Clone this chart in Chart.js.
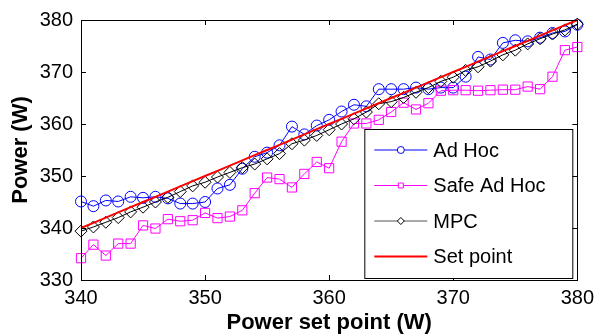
<!DOCTYPE html>
<html>
<head>
<meta charset="utf-8">
<script src="https://cdn.jsdelivr.net/npm/chart.js@4"></script>
<style>
  body { margin: 0; background: #fff; }
  #wrap { width: 600px; height: 334px; }
</style>
</head>
<body>
<div id="wrap"><canvas id="powerChart" width="600" height="334"></canvas></div>
<script>
// set points (W) on the x axis
const setPoints = [340, 341, 342, 343, 344, 345, 346, 347, 348, 349, 350, 351, 352, 353, 354, 355, 356, 357, 358, 359, 360,
    361, 362, 363, 364, 365, 366, 367, 368, 369, 370, 371, 372, 373, 374, 375, 376, 377, 378, 379, 380];

const adHoc = [345.1, 344.2, 345.3, 345.1, 346.0, 345.8, 346.0, 345.7, 344.7, 344.7, 345.0, 347.6, 348.3, 351.4, 353.7, 354.5,
    355.9, 359.5, 358.0, 359.7, 360.8, 362.4, 363.7, 363.4, 366.7, 366.7, 366.7, 367.0, 366.7, 367.0, 367.0, 369.1, 372.9,
    372.4, 375.6, 376.1, 375.9, 376.6, 377.5, 377.8, 379.1];

const safeAdHoc = [334.2, 336.8, 334.7, 337.0, 337.0, 340.5, 339.9, 341.7, 341.3, 341.5, 342.9, 341.9, 342.2, 343.4, 346.7,
    349.7, 349.4, 347.8, 350.4, 352.7, 351.5, 356.6, 360.1, 360.1, 360.8, 362.3, 364.1, 362.8, 364.0, 366.4, 366.5, 366.5,
    366.4, 366.5, 366.6, 366.6, 367.2, 366.7, 369.1, 374.2, 374.8];

const mpc = [339.4, 340.2, 341.1, 342.0, 343.1, 344.0, 345.0, 345.9, 347.0, 348.1, 348.8, 349.8, 350.7, 351.6, 352.3, 353.3,
    354.3, 356.2, 356.9, 357.8, 358.9, 360.0, 361.0, 362.3, 363.9, 364.3, 365.1, 366.1, 367.0, 368.2, 369.0, 370.3, 371.0,
    372.1, 373.3, 374.2, 375.4, 376.4, 377.3, 378.1, 379.2];

const xTicks = [340, 350, 360, 370, 380];
const yTicks = [330, 340, 350, 360, 370, 380];

const FONT = "'Liberation Sans', Arial, Helvetica, sans-serif";

function pts(vals) {
    return setPoints.map((x, i) => ({ x: x, y: vals[i] }));
}

// box around the plot plus inward tick marks, matlab style
const axesBox = {
    id: 'axesBox',
    afterDatasetsDraw(chart) {
        const { ctx, chartArea: a, scales } = chart;
        ctx.save();
        ctx.strokeStyle = '#000';
        ctx.lineWidth = 1;
        ctx.beginPath();
        xTicks.forEach(v => {
            const px = Math.round(scales.x.getPixelForValue(v)) + 0.5;
            ctx.moveTo(px, a.bottom); ctx.lineTo(px, a.bottom - 5);
            ctx.moveTo(px, a.top); ctx.lineTo(px, a.top + 5);
        });
        yTicks.forEach(v => {
            const py = Math.round(scales.y.getPixelForValue(v)) + 0.5;
            ctx.moveTo(a.left, py); ctx.lineTo(a.left + 5, py);
            ctx.moveTo(a.right, py); ctx.lineTo(a.right - 5, py);
        });
        ctx.stroke();
        ctx.strokeRect(Math.round(a.left) + 0.5, Math.round(a.top) + 0.5,
            Math.round(a.right - a.left), Math.round(a.bottom - a.top));
        ctx.restore();
    }
};

// legend box in the lower right corner of the axes
const boxLegend = {
    id: 'boxLegend',
    afterDraw(chart) {
        const { ctx, chartArea: a } = chart;
        const left = a.right - 213, top = a.bottom - 151, w = 208, h = 149;
        ctx.save();
        ctx.fillStyle = '#fff';
        ctx.fillRect(left, top, w, h);
        ctx.strokeStyle = '#000';
        ctx.lineWidth = 1;
        ctx.strokeRect(left + 0.5, top + 0.5, w, h);
        ctx.font = '20px ' + FONT;
        ctx.textBaseline = 'middle';
        chart.data.datasets.forEach((ds, i) => {
            const y = top + 21 + i * 35.5;
            ctx.strokeStyle = ds.legendLine || ds.borderColor;
            ctx.lineWidth = ds.borderWidth;
            ctx.beginPath();
            ctx.moveTo(left + 10, y);
            ctx.lineTo(left + 63, y);
            ctx.stroke();
            if (ds.pointRadius > 0) {
                ctx.lineWidth = 1;
                ctx.strokeStyle = ds.borderColor;
                ctx.fillStyle = '#fff';
                Chart.helpers.drawPoint(ctx, { pointStyle: ds.pointStyle, radius: 3.5, borderWidth: 1 }, left + 36.5, y);
            }
            ctx.fillStyle = '#000';
            ctx.fillText(ds.label, left + 69, y + 1);
        });
        ctx.restore();
    }
};

const ctx = document.getElementById('powerChart').getContext('2d');

new Chart(ctx, {
    type: 'line',
    data: {
        datasets: [{
            label: 'Ad Hoc',
            data: pts(adHoc),
            borderColor: '#0000ff',
            borderWidth: 1,
            pointStyle: 'circle',
            pointRadius: 5.5,
            pointBorderWidth: 1,
            pointBackgroundColor: 'rgba(0,0,0,0)',
            order: 3
        }, {
            label: 'Safe Ad Hoc',
            data: pts(safeAdHoc),
            borderColor: '#ff00ff',
            borderWidth: 1,
            pointStyle: 'rect',
            pointRadius: 6.5,
            pointBorderWidth: 1,
            pointBackgroundColor: 'rgba(0,0,0,0)',
            order: 2
        }, {
            label: 'MPC',
            data: pts(mpc),
            borderColor: '#000000',
            legendLine: '#555555',
            borderWidth: 1,
            pointStyle: 'rectRot',
            pointRadius: 6,
            pointBorderWidth: 1,
            pointBackgroundColor: 'rgba(0,0,0,0)',
            order: 1
        }, {
            label: 'Set point',
            data: pts(setPoints),
            borderColor: '#ff0000',
            borderWidth: 2,
            pointRadius: 0,
            order: 0
        }]
    },
    options: {
        responsive: false,
        animation: false,
        devicePixelRatio: 1,
        clip: false,
        elements: { line: { tension: 0, fill: false } },
        layout: { padding: { top: 17, right: 20, left: 0, bottom: 0 } },
        plugins: {
            legend: { display: false },
            tooltip: { enabled: false }
        },
        scales: {
            x: {
                type: 'linear',
                min: 340,
                max: 380,
                afterFit: function(scale) { scale.height = 54; },
                afterBuildTicks: function(scale) { scale.ticks = xTicks.map(v => ({ value: v })); },
                grid: { display: false, drawTicks: false },
                border: { display: false },
                ticks: { color: '#000', padding: 6, maxRotation: 0, font: { family: FONT, size: 20 } },
                title: {
                    display: true,
                    text: 'Power set point (W)',
                    color: '#000',
                    padding: 0,
                    font: { family: FONT, size: 22, weight: 'bold', lineHeight: 1 }
                }
            },
            y: {
                min: 330,
                max: 380,
                afterFit: function(scale) { scale.width = 81; },
                afterBuildTicks: function(scale) { scale.ticks = yTicks.map(v => ({ value: v })); },
                grid: { display: false, drawTicks: false },
                border: { display: false },
                ticks: { color: '#000', padding: 8, font: { family: FONT, size: 20 } },
                title: {
                    display: true,
                    text: 'Power (W)',
                    color: '#000',
                    padding: { top: 10, bottom: 0 },
                    font: { family: FONT, size: 22, weight: 'bold', lineHeight: 1 }
                }
            }
        }
    },
    plugins: [axesBox, boxLegend]
});
</script>
</body>
</html>
